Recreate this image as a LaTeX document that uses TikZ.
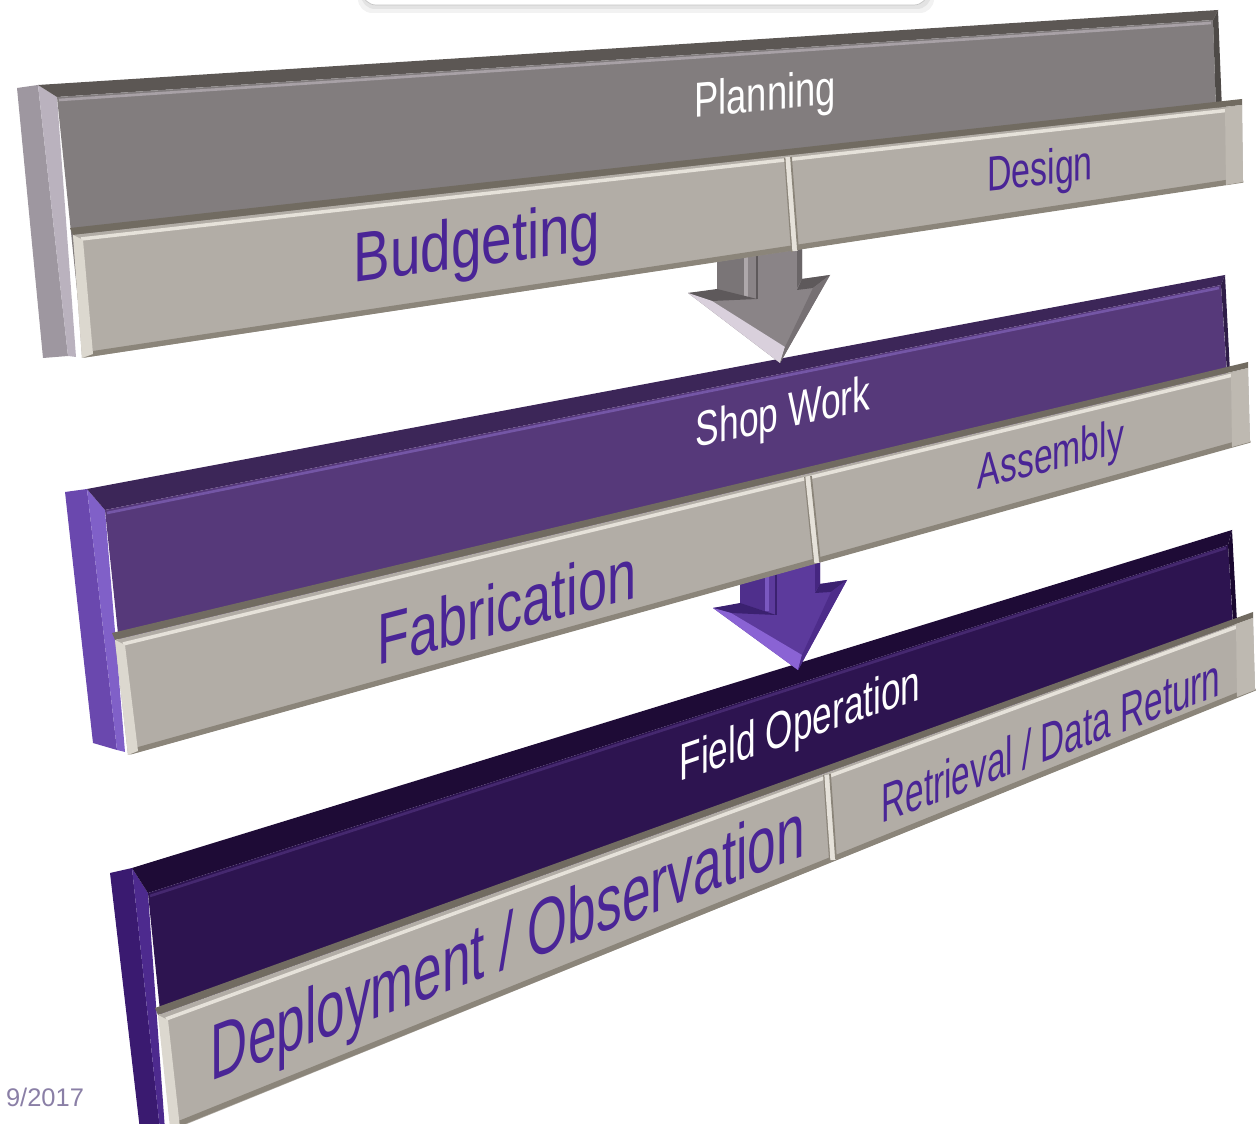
\documentclass[tikz,border=0pt]{standalone}
\usepackage{fontspec}
\setmainfont{Liberation Sans}
\definecolor{gside}{HTML}{9E97A0}
\definecolor{gridge}{HTML}{BAB2BE}
\definecolor{gtop}{HTML}{5C5754}
\definecolor{gmain}{HTML}{827D7E}
\definecolor{ghi}{HTML}{A8A1A6}
\definecolor{gdark}{HTML}{4E4A47}
\definecolor{pside}{HTML}{6A48AE}
\definecolor{pridge}{HTML}{8060C8}
\definecolor{ptop}{HTML}{3C2658}
\definecolor{pmain}{HTML}{56397A}
\definecolor{phi}{HTML}{7456A6}
\definecolor{pdark}{HTML}{2F1D48}
\definecolor{dside}{HTML}{3A1A70}
\definecolor{dridge}{HTML}{4D2A8E}
\definecolor{dtop}{HTML}{1E0B36}
\definecolor{dmain}{HTML}{2D1450}
\definecolor{dhi}{HTML}{45286F}
\definecolor{ddark}{HTML}{1A0830}
\definecolor{stripc}{HTML}{B2ADA6}
\definecolor{stripsh}{HTML}{716B61}
\definecolor{striphi}{HTML}{E6E2DA}
\definecolor{stripdk}{HTML}{8B857A}
\definecolor{stripend}{HTML}{DCD8CF}
\definecolor{stripr}{HTML}{BEB9B1}
\definecolor{txtpurple}{HTML}{4A2596}
\definecolor{datecol}{HTML}{8A7FA6}
% arrow 2 colours
\definecolor{pamain}{HTML}{5C3A9C}
\definecolor{pashaft}{HTML}{4F2F8C}
\definecolor{paridge}{HTML}{7A58C0}
\definecolor{padark}{HTML}{3B2170}
\definecolor{paside}{HTML}{452680}
\definecolor{palight}{HTML}{8A63D4}
\definecolor{paright}{HTML}{4D2C8A}
% arrow 1 colours
\definecolor{gamain}{HTML}{8A8487}
\definecolor{gashaft}{HTML}{7A7577}
\definecolor{garidge}{HTML}{AEA8AB}
\definecolor{gadark}{HTML}{5E595B}
\definecolor{gaside}{HTML}{6A6567}
\definecolor{galight}{HTML}{D9D0DC}
\definecolor{garight}{HTML}{767073}
\tikzset{
  lab/.style={inner sep=0pt, anchor=center},
  striplab/.style={lab, text=txtpurple},
  toplab/.style={lab, text=white},
}
\begin{document}
\begin{tikzpicture}[x=0.02cm,y=-0.02cm]
\useasboundingbox (0,0) rectangle (1258,1124);

% ---------- top box ----------
\fill[gray!10, rounded corners=8] (358,-30) rectangle (934,13);
\fill[gray!22, rounded corners=8] (361,-30) rectangle (931,9);
\filldraw[fill=white, draw=gray!45, rounded corners=8] (362,-30) rectangle (928,5);

% ================= BOARD 3 (Field Operation) =================
\fill[dside] (110,873) -- (132,868) -- (160,1130) -- (140,1130) -- cycle;
\fill[dridge] (132,868) -- (148,893) -- (165,1130) -- (160,1130) -- cycle;
\fill[dtop] (132,868) -- (1232,530) -- (1228,545) -- (148,893) -- cycle;
\fill[dmain] (148,893) -- (1228,545) -- (1233,625) -- (165,1060) -- cycle;
\draw[dhi, line width=1.5] (150,896) -- (1226,548);
\fill[ddark] (1228,545) -- (1232,530) -- (1237,622) -- (1233,622) -- cycle;
% strip 3
\fill[stripsh] (155,1008) -- (1253,612) -- (1253,618) -- (158,1015) -- cycle;
\fill[stripc] (158,1015) -- (1253,618) -- (1255,690) -- (177,1128) -- cycle;
\draw[striphi, line width=2] (166,1019) -- (1250,622);
\draw[stripdk, line width=3] (178,1124) -- (1255,688);
\fill[stripend] (158,1015) -- (168,1020) -- (180,1128) -- (170,1128) -- cycle;
\fill[stripr] (1236,624) -- (1253,618) -- (1255,690) -- (1237,697) -- cycle;
\draw[stripdk, line width=1] (824,775) -- (830,861);
\draw[striphi, line width=3] (827,775) -- (833,860);
\draw[stripdk, line width=1] (830,774) -- (836,859);

% ---------- arrow 2 (purple) ----------
\fill[pamain] (740,560) -- (820,560) -- (820,584) -- (847,580) -- (798,670) -- (713,608) -- (740,604) -- cycle;
\fill[pashaft] (740,560) -- (765,560) -- (765,611) -- (740,604) -- cycle;
\draw[paridge, line width=2] (767,560) -- (767,611);
\draw[padark, line width=1.5] (776,560) -- (776,615);
\fill[paside] (815,560) -- (820,560) -- (820,584) -- (815,592) -- cycle;
\fill[padark] (713,608) -- (740,603) -- (776,615) -- (731,613) -- cycle;
\fill[padark] (820,584) -- (847,580) -- (831,592) -- (815,593) -- cycle;
\fill[palight] (713,608) -- (798,670) -- (802,655) -- (731,613) -- cycle;
\fill[paright] (847,580) -- (798,670) -- (802,655) -- (831,592) -- cycle;

% ================= BOARD 2 (Shop Work) =================
\fill[pside] (65,492) -- (87,489) -- (117,750) -- (93,743) -- cycle;
\fill[pridge] (87,489) -- (105,510) -- (125,752) -- (117,750) -- cycle;
\fill[ptop] (87,489) -- (1225,275) -- (1221,285) -- (105,510) -- cycle;
\fill[pmain] (105,510) -- (1221,285) -- (1227,376) -- (125,700) -- cycle;
\draw[phi, line width=1.5] (107,513) -- (1219,288);
\fill[pdark] (1221,285) -- (1225,275) -- (1230,372) -- (1227,372) -- cycle;
% strip 2
\fill[stripsh] (112,633) -- (1248,362) -- (1248,368) -- (115,640) -- cycle;
\fill[stripc] (115,640) -- (1248,368) -- (1250,442) -- (128,755) -- cycle;
\draw[striphi, line width=2] (123,644) -- (1245,372);
\draw[stripdk, line width=3] (130,752) -- (1250,440);
\fill[stripend] (115,640) -- (125,645) -- (138,751) -- (128,755) -- cycle;
\fill[stripr] (1231,373) -- (1248,368) -- (1250,442) -- (1232,447) -- cycle;
\draw[stripdk, line width=1] (805,477) -- (814,564);
\draw[striphi, line width=3] (808,477) -- (817,563);
\draw[stripdk, line width=1] (811,476) -- (820,562);

% ---------- arrow 1 (grey) ----------
\fill[gamain] (717,240) -- (802,240) -- (802,279) -- (830,275) -- (780,363) -- (688,293) -- (717,290) -- cycle;
\fill[gashaft] (717,240) -- (744,240) -- (744,297) -- (717,290) -- cycle;
\draw[garidge, line width=2] (746,240) -- (746,297);
\draw[gadark, line width=1.5] (757,240) -- (757,299);
\fill[gaside] (797,240) -- (802,240) -- (802,279) -- (797,288) -- cycle;
\fill[gadark] (688,293) -- (717,289) -- (757,299) -- (712,301) -- cycle;
\fill[gadark] (802,279) -- (830,275) -- (813,288) -- (797,290) -- cycle;
\fill[galight] (688,293) -- (780,363) -- (785,347) -- (712,301) -- cycle;
\fill[garight] (830,275) -- (780,363) -- (785,347) -- (813,288) -- cycle;

% ================= BOARD 1 (Planning) =================
\fill[gside] (17,88) -- (38,85) -- (68,356) -- (43,358) -- cycle;
\fill[gridge] (38,85) -- (57,97) -- (76,357) -- (68,356) -- cycle;
\fill[gtop] (38,85) -- (1218,10) -- (1213,20) -- (57,97) -- cycle;
\fill[gmain] (57,97) -- (1213,20) -- (1216,112) -- (78,300) -- cycle;
\draw[ghi, line width=1.5] (59,100) -- (1211,23);
\fill[gdark] (1213,20) -- (1218,10) -- (1222,110) -- (1216,110) -- cycle;
% strip 1
\fill[stripsh] (70,228) -- (1242,99) -- (1242,105) -- (73,235) -- cycle;
\fill[stripc] (73,235) -- (1242,105) -- (1243,182) -- (82,358) -- cycle;
\draw[striphi, line width=2] (81,239) -- (1239,109);
\draw[stripdk, line width=3] (84,355) -- (1243,180);
\fill[stripend] (73,235) -- (83,240) -- (93,354) -- (82,358) -- cycle;
\fill[stripr] (1225,108) -- (1242,105) -- (1243,182) -- (1226,185) -- cycle;
\draw[stripdk, line width=1] (785,158) -- (792,252);
\draw[striphi, line width=3] (788,157) -- (795,251);
\draw[stripdk, line width=1] (791,157) -- (798,250);

% ================= TEXTS =================
\node[toplab, font=\fontsize{28}{30}\selectfont, yslant=0.09, xscale=0.74] (planning) at (765,98) {Planning};
\node[striplab, font=\fontsize{40}{42}\selectfont, yslant=0.135, xscale=0.78] (budgeting) at (477,248) {Budgeting};
\node[striplab, font=\fontsize{28}{30}\selectfont, yslant=0.11, xscale=0.69] (design) at (1040,173) {Design};

\node[toplab, font=\fontsize{28}{30}\selectfont, yslant=0.22, xscale=0.72] (shopwork) at (783,416) {Shop Work};
\node[striplab, font=\fontsize{41}{43}\selectfont, yslant=0.26, xscale=0.725] (fabrication) at (507,606) {Fabrication};
\node[striplab, font=\fontsize{28}{30}\selectfont, yslant=0.26, xscale=0.685] (assembly) at (1051,458) {Assembly};

\node[toplab, font=\fontsize{29.5}{31}\selectfont, yslant=0.34, xscale=0.68] (fieldop) at (800,727) {Field Operation};
\node[striplab, font=\fontsize{31}{33}\selectfont, yslant=0.38, xscale=0.612] (retrieval) at (1051,740) {Retrieval / Data Return};
\node[striplab, font=\fontsize{45}{47}\selectfont, yslant=0.38, xscale=0.65] (deploy) at (508,948) {Deployment / Observation};

\node[lab, text=datecol, font=\fontsize{14.5}{16}\selectfont] (date) at (45,1097) {9/2017};
\end{tikzpicture}
\end{document}
